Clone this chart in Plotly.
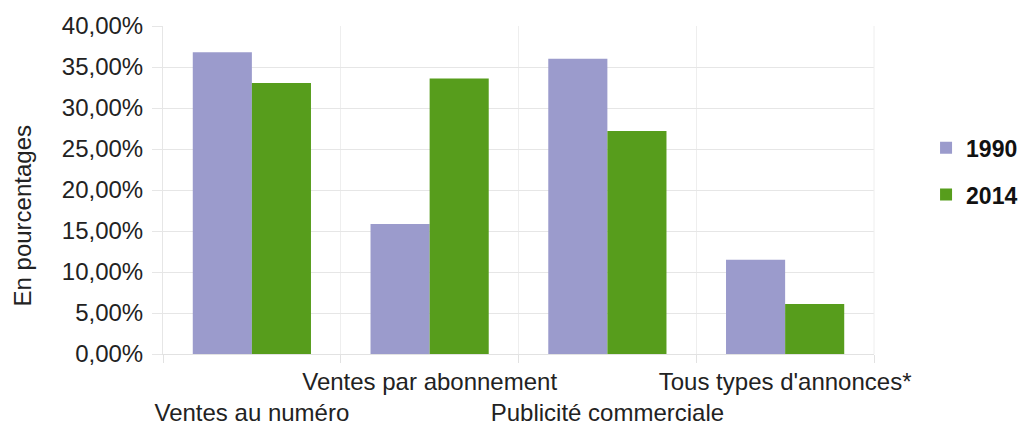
import plotly.graph_objects as go

# Categories and shares (in %) for the two years
categories = ["Ventes au numéro", "Ventes par abonnement",
              "Publicité commerciale", "Tous types d'annonces*"]
values_1990 = [36.8, 15.85, 36.0, 11.5]
values_2014 = [33.05, 33.6, 27.2, 6.1]
y_ticks = [0, 5, 10, 15, 20, 25, 30, 35, 40]
y_tick_labels = [f"{v:.2f}".replace(".", ",") + "%" for v in y_ticks]

# Alternate label rows so long category names don't collide
tick_text = [("<br>" + c) if i % 2 == 0 else c for i, c in enumerate(categories)]

fig = go.Figure()
fig.add_trace(go.Bar(name="1990", x=categories, y=values_1990,
                     marker=dict(color="#9b9bcc", line=dict(width=0)),
                     legendgroup="a"))
fig.add_trace(go.Bar(name="2014", x=categories, y=values_2014,
                     marker=dict(color="#579d1c", line=dict(width=0)),
                     legendgroup="b"))

fig.update_layout(
    width=1021, height=428,
    margin=dict(l=163, r=147, t=26, b=74, autoexpand=False),
    paper_bgcolor="white", plot_bgcolor="white",
    font=dict(family="Liberation Sans, Arial, sans-serif", color="#222"),
    barmode="group", bargap=0.335, bargroupgap=0,
    legend=dict(xref="container", yref="container",
                x=0.907, y=0.705, xanchor="left", yanchor="top",
                font=dict(size=23, color="#111", weight="bold"),
                tracegroupgap=14, itemwidth=30),
    showlegend=True,
)
fig.update_xaxes(
    type="category", tickmode="array", tickvals=categories, ticktext=tick_text,
    tickangle=0, automargin=False,
    tickson="boundaries", ticks="outside", ticklen=8, tickcolor="#e2e2e2",
    ticklabelstandoff=6,
    showgrid=True, gridcolor="#eeeeee", gridwidth=1,
    showline=True, linecolor="#e2e2e2", mirror=False,
    tickfont=dict(size=24, color="#222"),
)
fig.update_yaxes(
    range=[0, 40], tickmode="array", tickvals=y_ticks, ticktext=y_tick_labels,
    automargin=False,
    showgrid=True, gridcolor="#e6e6e6", gridwidth=1,
    ticks="outside", ticklen=10, tickcolor="#e6e6e6",
    ticklabelstandoff=4,
    showline=True, linecolor="#e6e6e6", zeroline=False,
    tickfont=dict(size=24, color="#222"),
)
# axis title
fig.add_annotation(text="En pourcentages", xref="paper", yref="paper",
                   x=-0.198, y=0.42, xanchor="center", yanchor="middle",
                   textangle=-90, showarrow=False,
                   font=dict(size=24, color="#222"))
# right border of the plot area
fig.add_shape(type="line", xref="paper", yref="paper", x0=1, x1=1, y0=0, y1=1,
              line=dict(color="#eeeeee", width=1))

fig.write_html("out.html")
